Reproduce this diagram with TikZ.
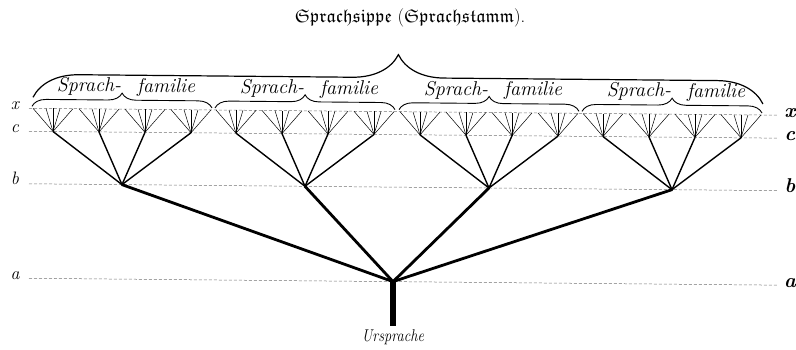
\documentclass[tikz,border=0pt]{standalone}
\usepackage{amssymb}
\usepackage{graphicx}
\usetikzlibrary{decorations.pathreplacing}
\usetikzlibrary{positioning}
\tikzstyle{level} = [draw=black!55, line width=0.5pt, dash pattern=on 3pt off 2pt]
\tikzstyle{stem} = [line width=6pt]
\tikzstyle{limb} = [line width=2.8pt, line cap=round]
\tikzstyle{branch} = [line width=1.4pt]
\tikzstyle{twig} = [line width=0.5pt]
\tikzstyle{leftname} = [anchor=base, font=\fontsize{18}{18}\selectfont\itshape]
\tikzstyle{rightname} = [anchor=mid, font=\fontsize{20}{20}\selectfont\bfseries\itshape]
\tikzstyle{famtext} = [anchor=base, font=\fontsize{20}{20}\selectfont\itshape]
\tikzstyle{familybrace} = [decorate, decoration={brace, amplitude=14pt}, line width=0.9pt]
\tikzstyle{stammbrace} = [decorate, decoration={brace, amplitude=46pt}, line width=1.2pt]
\newcommand{\frakword}[1]{$\mathfrak{#1}$}
\begin{document}
\begin{tikzpicture}[x=1pt, y=-1pt]
    \useasboundingbox (0,0) rectangle (796,350);
    \begin{scope}[yslant=-0.0092]
    % the four levels x, c, b, a
    \foreach \lv/\ly in {x/108,c/131,b/183.5,a/278} {
        \node [leftname] (l\lv) at (15,\ly+1) {\lv};
        \node [rightname] (r\lv) at (790,\ly) {\lv};
        \coordinate (ls\lv) at (29,\ly);
        \coordinate (le\lv) at (778,\ly);
        \draw [level] (ls\lv) -- (le\lv);
    }

    % root and trunk
    \coordinate (root) at (393,278);
    \coordinate (foot) at (393,322);
    \draw [stem] (root) -- (foot);
    \node [font=\fontsize{17}{17}\selectfont\itshape, below=1pt of foot] (ursprache) {\scalebox{0.85}[1]{Ursprache}};

    % families, their groups and the leaves
    \foreach \f/\fx in {1/122,2/305,3/489,4/672} {
        \coordinate (b\f) at (\fx,183.5);
        \draw [limb] (root) -- (b\f);
        \foreach \k/\dx in {1/-69,2/-23,3/23,4/69} {
            \coordinate (c\f\k) at (\fx+\dx,131);
            \draw [branch] (b\f) -- (c\f\k);
            \foreach \l/\lx in {1/-20,2/-7,3/0,4/7,5/20} {
                \coordinate (x\f\k\l) at (\fx+\dx+\lx,108);
                \draw [twig] (c\f\k) -- (x\f\k\l);
            }
        }
        \coordinate (fl\f) at (\fx-90,106);
        \coordinate (fr\f) at (\fx+90,106);
        \draw [familybrace] (fl\f) -- (fr\f);
        \node [famtext] (sprach\f) at (\fx-33,91) {Sprach-};
        \node [famtext] (familie\f) at (\fx+44,91) {familie};
    }

    % the whole stock
    \coordinate (sl) at (33,97);
    \coordinate (sr) at (763,97);
    \draw [stammbrace] (sl) -- (sr);
    \node [font=\fontsize{18.5}{18.5}\selectfont] (stamm) at (410,14) {\frakword{Sprachsippe} (\frakword{Sprachstamm}).};
    \end{scope}
\end{tikzpicture}
\end{document}
